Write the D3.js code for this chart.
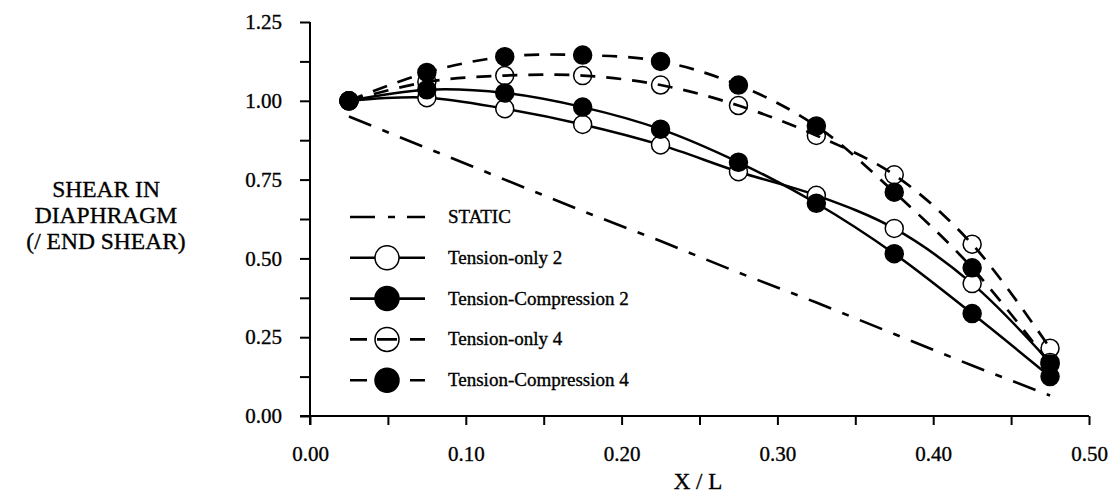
<!DOCTYPE html>
<html>
<head>
<meta charset="utf-8">
<script src="https://cdn.jsdelivr.net/npm/d3@7"></script>
<style>
  body { margin: 0; background: #fff; }
  svg text { font-family: "Liberation Serif", "Times New Roman", serif; fill: #000; stroke: #000; stroke-width: 0.35px; }
</style>
</head>
<body>
<svg id="chart"></svg>
<script>
var width = 1115, height = 494;
var svg = d3.select("#chart").attr("width", width).attr("height", height);

// data
const xPos = [0.025, 0.075, 0.125, 0.175, 0.225, 0.275, 0.325, 0.375, 0.425, 0.475];
const staticVals = [0.95, 0.85, 0.75, 0.65, 0.555, 0.455, 0.36, 0.26, 0.16, 0.065];
const tensionOnly2 = [1.00, 1.01, 0.975, 0.925, 0.86, 0.775, 0.70, 0.595, 0.42, 0.17];
const tensionComp2 = [1.00, 1.035, 1.025, 0.98, 0.91, 0.805, 0.675, 0.515, 0.325, 0.125];
const tensionOnly4 = [1.00, 1.06, 1.08, 1.08, 1.05, 0.985, 0.89, 0.765, 0.545, 0.215];
const tensionComp4 = [1.00, 1.09, 1.14, 1.145, 1.125, 1.05, 0.92, 0.71, 0.47, 0.165];
const legendNames = ["STATIC", "Tension-only 2", "Tension-Compression 2", "Tension-only 4", "Tension-Compression 4"];
const yTicks = [0, 0.125, 0.25, 0.375, 0.5, 0.625, 0.75, 0.875, 1.0, 1.125, 1.25];
const xTicks = [0, 0.05, 0.1, 0.15, 0.2, 0.25, 0.3, 0.35, 0.4, 0.45, 0.5];

var x = d3.scaleLinear().domain([0, 0.5]).range([310, 1089]);
var y = d3.scaleLinear().domain([0, 1.25]).range([416, 22]);

// axes
var yAxis = d3.axisLeft(y).tickValues(yTicks).tickSize(10).tickPadding(18)
  .tickFormat(function (d) { return Math.abs(d * 4 - Math.round(d * 4)) < 1e-6 ? d3.format(".2f")(d) : ""; });
var gy = svg.append("g").attr("transform", "translate(310,0)").call(yAxis);
gy.select(".domain").attr("stroke-width", 2).attr("d", "M-0,22V425");
gy.selectAll(".tick line").attr("stroke-width", 2);
gy.selectAll(".tick text").attr("font-size", 21);

var xAxis = d3.axisBottom(x).tickValues(xTicks).tickSize(9).tickPadding(21)
  .tickFormat(function (d) { return Math.abs(d * 10 - Math.round(d * 10)) < 1e-6 ? d3.format(".2f")(d) : ""; });
var gx = svg.append("g").attr("transform", "translate(0,416)").call(xAxis);
gx.select(".domain").attr("stroke-width", 2).attr("d", "M300,0H1089");
gx.selectAll(".tick line").attr("stroke-width", 2);
gx.selectAll(".tick text").attr("font-size", 21);

// titles
var yt = svg.append("text").attr("text-anchor", "middle").attr("font-size", 23.5);
["SHEAR IN", "DIAPHRAGM", "(/ END SHEAR)"].forEach(function (t, i) {
  yt.append("tspan").attr("x", 106).attr("y", 197 + i * 26).text(t);
});
svg.append("text").attr("x", 698).attr("y", 489).attr("text-anchor", "middle")
  .attr("font-size", 23).text("X / L");

var line = d3.line()
  .x(function (d) { return x(d[0]); })
  .y(function (d) { return y(d[1]); })
  .curve(d3.curveCatmullRom);

var straight = d3.line()
  .x(function (d) { return x(d[0]); })
  .y(function (d) { return y(d[1]); });

function pairs(vals) { return xPos.map(function (v, i) { return [v, vals[i]]; }); }

var series = [
  { vals: staticVals, dash: "24,12,7,12", marker: null, width: 2.6 },
  { vals: tensionOnly2, dash: null, marker: "open", width: 2.5 },
  { vals: tensionComp2, dash: null, marker: "filled", width: 2.5 },
  { vals: tensionOnly4, dash: "15,11", marker: "hollow", width: 2.7 },
  { vals: tensionComp4, dash: "15,11", marker: "filled", width: 2.7 }
];

series.forEach(function (s) {
  svg.append("path")
    .attr("d", s.marker ? line(pairs(s.vals)) : straight(pairs(s.vals)))
    .attr("fill", "none")
    .attr("stroke", "#000")
    .attr("stroke-width", s.width)
    .attr("stroke-dasharray", s.dash);
});

// markers drawn after lines; hollow ones let the dashed line show through
series.forEach(function (s) {
  if (!s.marker) return;
  svg.selectAll(null)
    .data(pairs(s.vals))
    .enter().append("circle")
    .attr("cx", function (d) { return x(d[0]); })
    .attr("cy", function (d) { return y(d[1]); })
    .attr("r", 9)
    .attr("fill", s.marker === "filled" ? "#000" : (s.marker === "open" ? "#fff" : "none"))
    .attr("stroke", "#000")
    .attr("stroke-width", 1.5);
});

// legend
var legendDash = ["25,13,7,12,18", null, null, "17,10,20,13,15", "17,10,20,13,15"];
legendNames.forEach(function (name, i) {
  var ly = 217 + i * 40.8;
  var s = series[i];
  svg.append("line")
    .attr("x1", 350).attr("x2", 425).attr("y1", ly).attr("y2", ly)
    .attr("stroke", "#000").attr("stroke-width", 2.6)
    .attr("stroke-dasharray", legendDash[i]);
  if (s.marker) {
    svg.append("circle").attr("cx", 387).attr("cy", ly).attr("r", 12)
      .attr("fill", s.marker === "filled" ? "#000" : (s.marker === "open" ? "#fff" : "none"))
      .attr("stroke", "#000").attr("stroke-width", 1.5);
  }
  svg.append("text").attr("x", 448).attr("y", ly + 6).attr("font-size", 19).text(name);
});
</script>
</body>
</html>
